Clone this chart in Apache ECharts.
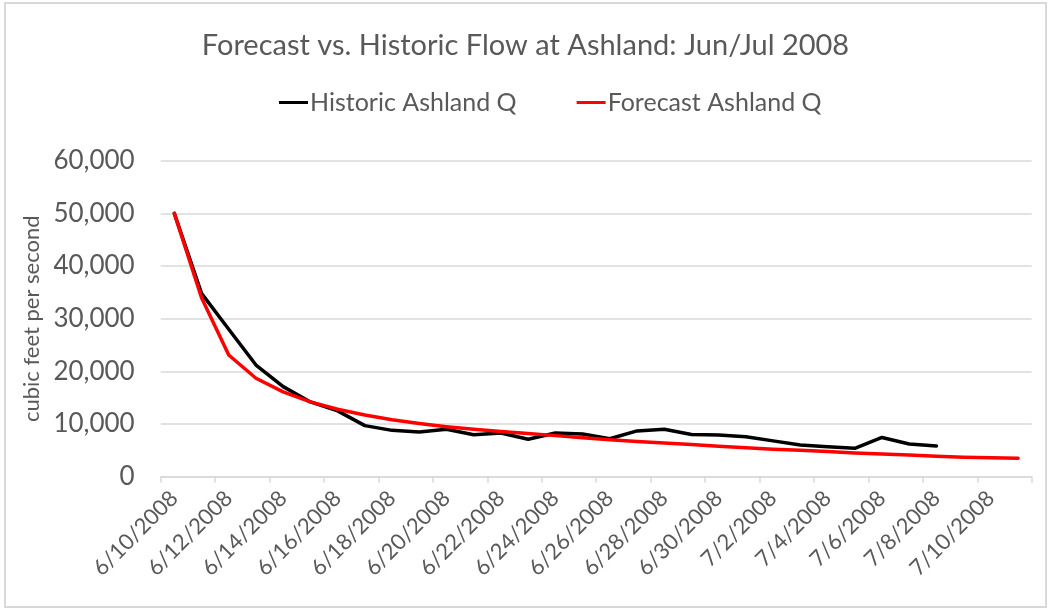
<!DOCTYPE html>
<html>
<head>
<meta charset="utf-8">
<script src="https://cdn.jsdelivr.net/npm/echarts@6/dist/echarts.min.js"></script>
<style>
  html, body { margin: 0; padding: 0; background: #ffffff; }
  #chart { width: 1051px; height: 612px; }
</style>
</head>
<body>
<div id="chart"></div>
<script>
const titleText = 'Forecast vs. Historic Flow at Ashland: Jun/Jul 2008';
const seriesNames = ['Historic Ashland Q', 'Forecast Ashland Q'];
const yAxisName = 'cubic feet per second';

const categories = [
  '6/10/2008', '6/11/2008', '6/12/2008', '6/13/2008', '6/14/2008', '6/15/2008',
  '6/16/2008', '6/17/2008', '6/18/2008', '6/19/2008', '6/20/2008', '6/21/2008',
  '6/22/2008', '6/23/2008', '6/24/2008', '6/25/2008', '6/26/2008', '6/27/2008',
  '6/28/2008', '6/29/2008', '6/30/2008', '7/1/2008', '7/2/2008', '7/3/2008',
  '7/4/2008', '7/5/2008', '7/6/2008', '7/7/2008', '7/8/2008', '7/9/2008',
  '7/10/2008', '7/11/2008'
];

const historic = [
  50000, 34800, 28000, 21200, 17100, 14200, 12500, 9700, 8800, 8500,
  9000, 7950, 8300, 7100, 8300, 8100, 7200, 8700, 9000, 8000,
  7900, 7600, 6800, 6000, 5700, 5400, 7450, 6200, 5850
];

const forecast = [
  50000, 34000, 23100, 18700, 16100, 14200, 12800, 11700, 10800, 10100,
  9500, 9000, 8600, 8200, 7800, 7400, 7000, 6700, 6400, 6100,
  5800, 5500, 5200, 5000, 4800, 4500, 4300, 4100, 3900, 3700,
  3600, 3500
];

const yMin = 0, yMax = 60000, yStep = 10000;

const FONT = 'Lato, "Open Sans", sans-serif';
const TEXT = '#595959';
const GRID = '#d9d9d9';

const chart = echarts.init(document.getElementById('chart'), null, { renderer: 'canvas' });
chart.setOption({
  backgroundColor: '#ffffff',
  animation: false,
  graphic: [{
    type: 'rect',
    shape: { x: 5, y: 3, width: 1041, height: 604 },
    style: { fill: 'none', stroke: GRID, lineWidth: 2 },
    silent: true
  }],
  title: {
    text: titleText,
    left: 'center',
    top: 26,
    textStyle: { fontFamily: FONT, fontSize: 29, fontWeight: 'normal', color: TEXT }
  },
  legend: {
    top: 85,
    left: 274,
    itemGap: 60,
    itemWidth: 29,
    itemHeight: 3,
    icon: 'rect',
    textStyle: { fontFamily: FONT, fontSize: 25, color: TEXT, padding: [0, 0, 0, -3] },
    data: seriesNames
  },
  grid: {
    left: 160.7, right: 19.3, top: 160.7, bottom: 135.3,
    outerBoundsMode: 'none', containLabel: false
  },
  xAxis: {
    type: 'category',
    data: categories,
    boundaryGap: true,
    axisLine: { show: true, lineStyle: { color: GRID, width: 1.5 } },
    axisTick: { show: true, interval: 1, length: 6, lineStyle: { color: GRID, width: 1.5 } },
    axisLabel: {
      interval: 1, rotate: 45, margin: 18,
      fontFamily: FONT, fontSize: 22, color: TEXT
    },
    splitLine: { show: false }
  },
  yAxis: {
    type: 'value',
    min: yMin, max: yMax, interval: yStep,
    name: yAxisName,
    nameLocation: 'middle',
    nameRotate: 90,
    nameGap: 112,
    nameTextStyle: { fontFamily: FONT, fontSize: 22, color: TEXT },
    axisLine: { show: false },
    axisTick: { show: false },
    axisLabel: {
      margin: 26,
      fontFamily: FONT, fontSize: 26, color: TEXT,
      formatter: v => v.toLocaleString('en-US')
    },
    splitLine: { show: true, lineStyle: { color: GRID, width: 1.5 } }
  },
  series: [
    {
      name: seriesNames[0], type: 'line', data: historic,
      symbol: 'none', smooth: false,
      itemStyle: { color: '#000000' },
      lineStyle: { color: '#000000', width: 3.5, cap: 'round', join: 'round' }
    },
    {
      name: seriesNames[1], type: 'line', data: forecast,
      symbol: 'none', smooth: false,
      itemStyle: { color: '#ff0000' },
      lineStyle: { color: '#ff0000', width: 3.5, cap: 'round', join: 'round' }
    }
  ]
});
</script>
</body>
</html>
